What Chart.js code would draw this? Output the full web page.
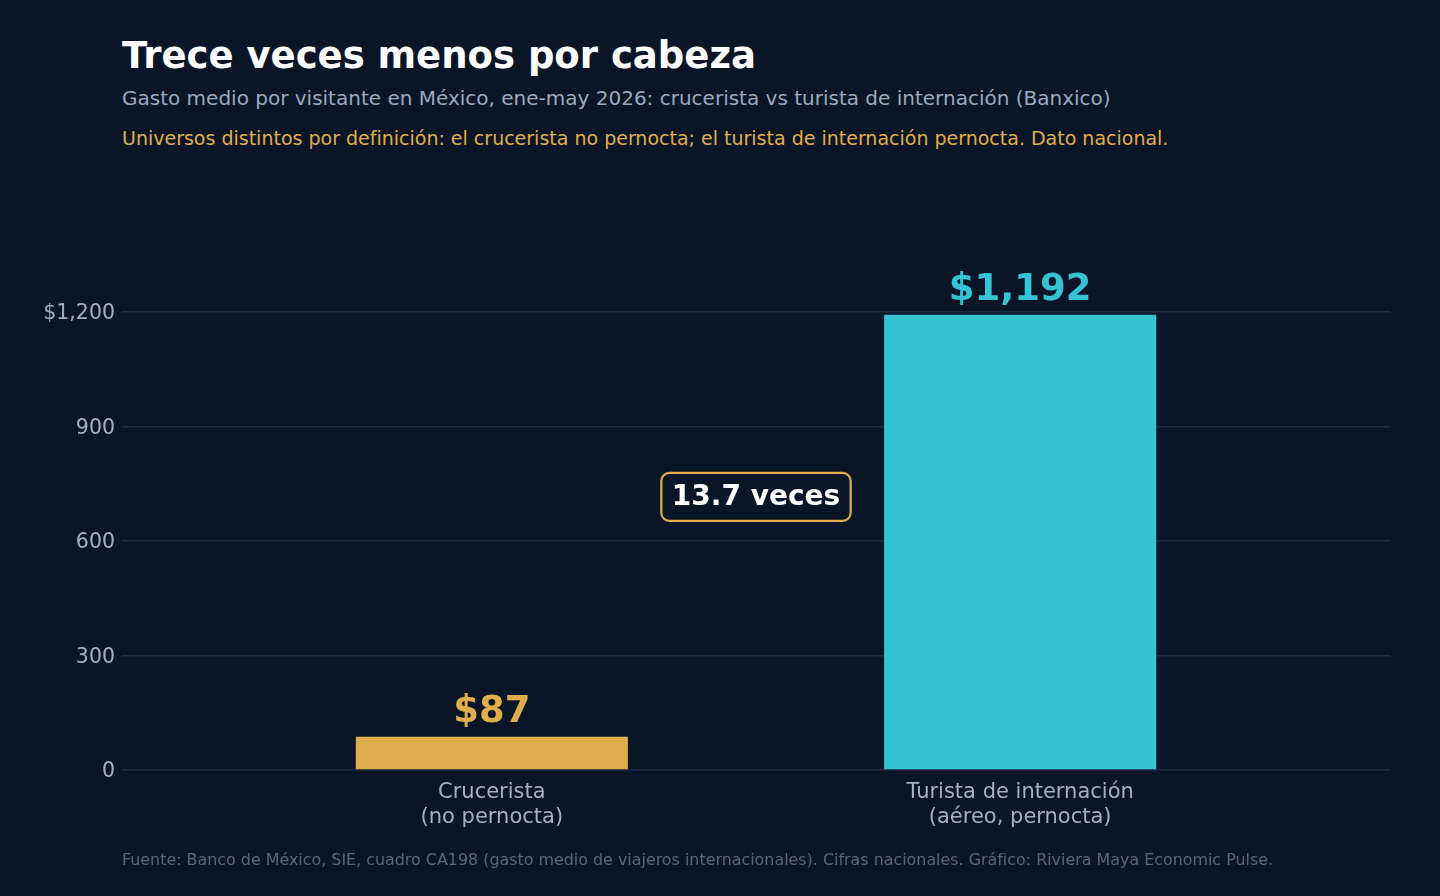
<!DOCTYPE html>
<html lang="es">
<head>
<meta charset="utf-8">
<title>Trece veces menos por cabeza</title>
<script src="https://cdn.jsdelivr.net/npm/chart.js@4.4.1/dist/chart.umd.min.js"></script>
<style>
  html, body { margin: 0; padding: 0; background: #0a1628; overflow: hidden; width: 100%; height: 100%; }
  body { position: relative; font-family: "DejaVu Sans", sans-serif; }
  .txt { position: absolute; left: 122px; white-space: nowrap; }
  #title { top: 34px; font-size: 37px; font-weight: bold; color: #ffffff; }
  #subtitle { top: 86px; font-size: 20px; color: #9aa8bd; }
  #note { top: 127px; font-size: 19px; color: #e0ad4c; }
  #source { top: 850px; font-size: 15.9px; color: #58667b; }
  #chart { position: absolute; left: 0; top: 0; display: block; }
</style>
</head>
<body>
<div class="txt" id="title">Trece veces menos por cabeza</div>
<div class="txt" id="subtitle">Gasto medio por visitante en México, ene-may 2026: crucerista vs turista de internación (Banxico)</div>
<div class="txt" id="note">Universos distintos por definición: el crucerista no pernocta; el turista de internación pernocta. Dato nacional.</div>
<canvas id="chart" width="1440" height="896"></canvas>
<div class="txt" id="source">Fuente: Banco de México, SIE, cuadro CA198 (gasto medio de viajeros internacionales). Cifras nacionales. Gráfico: Riviera Maya Economic Pulse.</div>

<script>
// categories and values (USD per visitor)
const categories = [
  ['Crucerista', '(no pernocta)'],
  ['Turista de internación', '(aéreo, pernocta)']
];
const gasto = [87, 1192];
const barColors = ['#e0ad4c', '#36c4d4'];
const yTicks = [0, 300, 600, 900, 1200];

const ratio = gasto[1] / gasto[0];

const fmtMoney = (v) => '$' + v.toLocaleString('en-US');

// value labels above bars + ratio callout
const labelsPlugin = {
  id: 'barLabels',
  afterDatasetsDraw(chart) {
    const ctx = chart.ctx;
    const meta = chart.getDatasetMeta(0);
    ctx.save();
    ctx.font = 'bold 37px "DejaVu Sans"';
    ctx.textAlign = 'center';
    ctx.textBaseline = 'alphabetic';
    meta.data.forEach((bar, i) => {
      ctx.fillStyle = barColors[i];
      ctx.fillText(fmtMoney(gasto[i]), bar.x, bar.y - 15);
    });

    // callout box between bars
    const xs = chart.scales.x, ys = chart.scales.y;
    const cx = xs.getPixelForValue(0.5);
    const cy = ys.getPixelForValue(715);
    const text = ratio.toFixed(1) + ' veces';
    ctx.font = 'bold 28px "DejaVu Sans"';
    const w = ctx.measureText(text).width + 21;
    const h = 48;
    ctx.beginPath();
    ctx.roundRect(cx - w / 2, cy - h / 2, w, h, 8);
    ctx.fillStyle = '#0a1628';
    ctx.fill();
    ctx.lineWidth = 2.2;
    ctx.strokeStyle = '#e0ad4c';
    ctx.stroke();
    ctx.fillStyle = '#ffffff';
    ctx.textBaseline = 'middle';
    ctx.fillText(text, cx, cy + 1);
    ctx.restore();
  }
};

new Chart(document.getElementById('chart'), {
  type: 'bar',
  data: {
    datasets: [{
      data: gasto.map((v, i) => ({ x: i, y: v })),
      backgroundColor: barColors,
      borderWidth: 0,
      categoryPercentage: 1,
      barPercentage: 0.515
    }]
  },
  options: {
    responsive: false,
    animation: false,
    layout: { padding: { top: 292, left: 30, right: 50, bottom: 56 } },
    plugins: {
      legend: { display: false },
      tooltip: { enabled: false }
    },
    scales: {
      x: {
        type: 'linear',
        min: -0.7,
        max: 1.7,
        offset: false,
        grid: { display: false },
        border: { display: false },
        afterBuildTicks: (axis) => { axis.ticks = categories.map((c, i) => ({ value: i })); },
        afterFit: (axis) => { axis.height = 70; },
        ticks: {
          padding: 2,
          color: '#a3b0c4',
          font: { family: 'DejaVu Sans', size: 21, lineHeight: 1.2 },
          maxRotation: 0,
          callback: (v) => categories[v]
        }
      },
      y: {
        min: 0,
        max: Math.max(...gasto) * 1.05,
        afterBuildTicks: (axis) => { axis.ticks = yTicks.map(v => ({ value: v })); },
        afterFit: (axis) => { axis.width = 92; },
        grid: { color: '#1f2b42', lineWidth: 1.5, drawTicks: false },
        border: { display: false },
        ticks: {
          padding: 7,
          labelOffset: 2,
          color: '#a3b0c4',
          font: { family: 'DejaVu Sans', size: 20.5 },
          callback: (v) => v === 1200 ? fmtMoney(v) : String(v)
        }
      }
    }
  },
  plugins: [labelsPlugin]
});
</script>
</body>
</html>
